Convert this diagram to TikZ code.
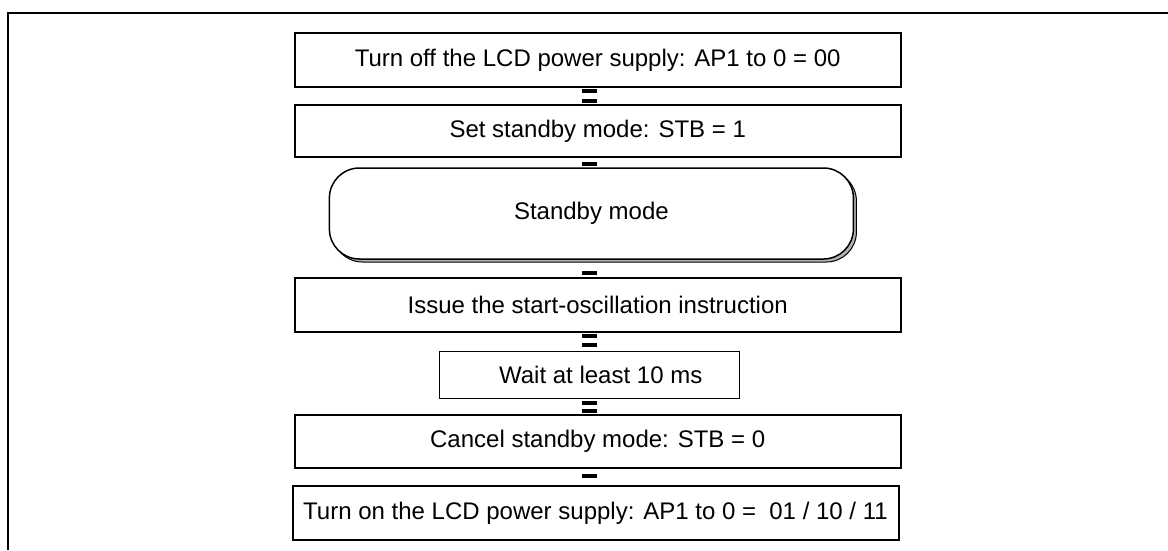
\documentclass[tikz,border=0pt]{standalone}
\usepackage{fontspec}
\setmainfont{Liberation Sans}
\usetikzlibrary{shadows}

\begin{document}
\begin{tikzpicture}[
  x=1pt, y=-1pt,
  font=\fontsize{24}{28}\selectfont,
  box/.style={draw, line width=2pt, inner sep=0pt, align=center, minimum width=606pt, minimum height=54pt},
  thinbox/.style={draw, line width=1pt, inner sep=0pt, minimum width=300pt, minimum height=47pt},
  modebox/.style={draw, line width=1.5pt, rounded corners=30pt, fill=white, inner sep=0pt,
    minimum width=524pt, minimum height=91pt,
    drop shadow={shadow xshift=3pt, shadow yshift=-3pt, fill=gray!60, draw=black, line width=1pt, opacity=1}},
  link/.style={line width=15pt, line cap=butt}
]
\useasboundingbox (0,0) rectangle (1168,550);

% --- Page frame (cut by the page) --------------------------------------------
\draw[line width=1.5pt] (8,550) -- (8,13) -- (1168,13);

% --- Steps -------------------------------------------------------------------
\node[box] (off) at (597.7,60) {Turn off the LCD power supply: AP1 to 0 = 00};
\node[box, minimum height=52pt] (stb) at (597.7,131) {Set standby mode: STB = 1};
\node[modebox] (mode) at (591.4,213.5) {Standby mode};
\node[box] (osc) at (597.7,305) {Issue the start-oscillation instruction};
\node[thinbox] (wait) at (589.7,374.5) {\hspace*{22pt}Wait at least 10 ms};
\node[box, minimum height=53pt] (cancel) at (597.7,441.5) {Cancel standby mode: STB = 0};
\node[box] (on) at (595.5,513) {Turn on the LCD power supply: AP1 to 0 = \ 01 / 10 / 11};

% --- Links (broken bars) -----------------------------------------------------
\draw[link, dash pattern=on 4pt off 6pt, dash phase=9.5pt] (off.south -| wait.center) -- (stb.north -| wait.center);
\draw[link, dash pattern=on 4pt off 20pt, dash phase=20pt] (stb.south -| wait.center) -- (mode.north -| wait.center);
\draw[link, dash pattern=on 4pt off 20pt, dash phase=13pt] (mode.south -| wait.center) -- (osc.north -| wait.center);
\draw[link, dash pattern=on 4pt off 5pt, dash phase=8pt] (osc.south -| wait.center) -- (wait.north);
\draw[link, dash pattern=on 4pt off 4pt, dash phase=6pt] (wait.south) -- (cancel.north -| wait.center);
\draw[link, dash pattern=on 4pt off 20pt, dash phase=19pt] (cancel.south -| wait.center) -- (on.north -| wait.center);

\end{tikzpicture}
\end{document}
